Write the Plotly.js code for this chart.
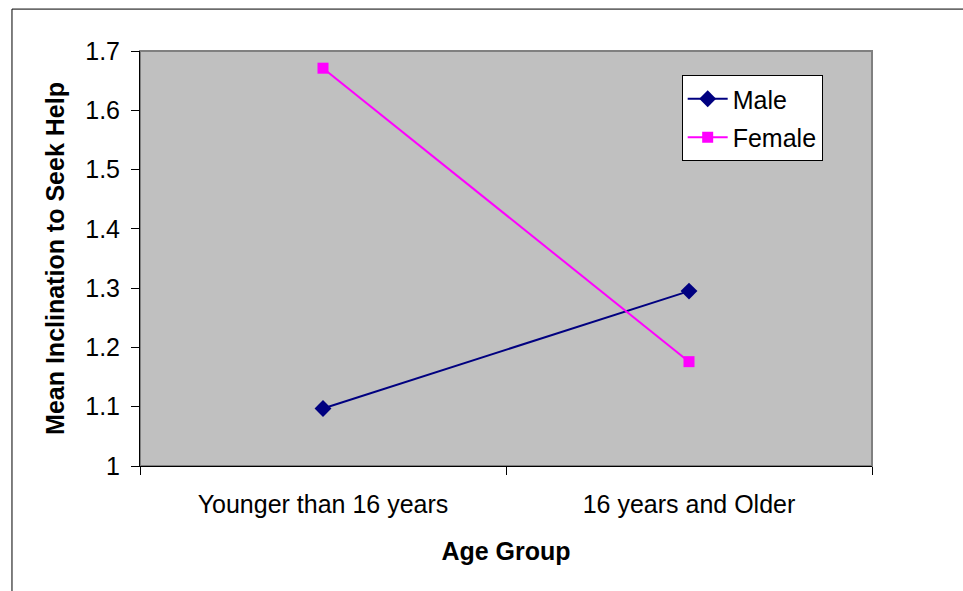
<!DOCTYPE html>
<html>
<head>
<meta charset="utf-8">
<script src="https://cdn.plot.ly/plotly-3.0.1.min.js"></script>
<style>
html,body{margin:0;padding:0;background:#fff;}
#chart{width:963px;height:591px;}
</style>
</head>
<body>
<div id="chart"></div>
<script>
const categories = ["Younger than 16 years", "16 years and Older"];
const maleValues = [1.097, 1.295];
const femaleValues = [1.671, 1.176];
const yTickVals = [1, 1.1, 1.2, 1.3, 1.4, 1.5, 1.6, 1.7];
const yTickText = ["1", "1.1", "1.2", "1.3", "1.4", "1.5", "1.6", "1.7"];

const font = "Arial, 'Liberation Sans', sans-serif";

const traces = [
  {
    x: categories, y: maleValues, name: "Male", type: "scatter", mode: "lines+markers",
    legendgroup: "m",
    line: {color: "#000080", width: 2},
    marker: {symbol: "diamond", size: 13, color: "#000080"}
  },
  {
    x: categories, y: femaleValues, name: "Female", type: "scatter", mode: "lines+markers",
    legendgroup: "f",
    line: {color: "#FF00FF", width: 2},
    marker: {symbol: "square", size: 11, color: "#FF00FF"}
  }
];

const layout = {
  width: 963, height: 591,
  margin: {l: 140, r: 91, t: 51, b: 125, pad: 0},
  paper_bgcolor: "#ffffff",
  plot_bgcolor: "#C0C0C0",
  font: {family: font, size: 25, color: "#000"},
  showlegend: true,
  legend: {
    x: 0.740, y: 0.942, xanchor: "left", yanchor: "top",
    bgcolor: "#ffffff", bordercolor: "#000", borderwidth: 1,
    font: {family: font, size: 25, color: "#000"},
    traceorder: "grouped", tracegroupgap: 3, itemwidth: 40
  },
  xaxis: {
    type: "category", range: [-0.5, 1.5],
    tickson: "boundaries", ticks: "outside", ticklen: 8, tickcolor: "#000", tickwidth: 1,
    showline: true, linecolor: "#000", linewidth: 1,
    showgrid: false, zeroline: false,
    ticklabelstandoff: 16,
    tickfont: {family: font, size: 25, color: "#000"},
    title: {text: "<b>Age Group</b>", font: {family: font, size: 25, color: "#000"}, standoff: 25},
    automargin: false
  },
  yaxis: {
    range: [1, 1.7], tickvals: yTickVals, ticktext: yTickText,
    ticks: "outside", ticklen: 8, tickcolor: "#000", tickwidth: 1,
    showline: true, linecolor: "#000", linewidth: 1,
    showgrid: false, zeroline: false,
    ticklabelstandoff: 6,
    tickfont: {family: font, size: 25, color: "#000"},
    title: {text: "<b>Mean Inclination to Seek Help</b>", font: {family: font, size: 25, color: "#000"}, standoff: 13},
    automargin: false
  },
  shapes: [
    {type: "rect", xref: "paper", yref: "paper", x0: 0, x1: 1, y0: 0, y1: 1,
     line: {color: "#808080", width: 2}, layer: "below"},
    {type: "rect", xref: "paper", yref: "paper", x0: -0.1749, x1: 1.5, y0: -0.5, y1: 1.101,
     line: {color: "#000", width: 1}}
  ]
};

Plotly.newPlot("chart", traces, layout, {displayModeBar: false, staticPlot: true});
</script>
</body>
</html>
